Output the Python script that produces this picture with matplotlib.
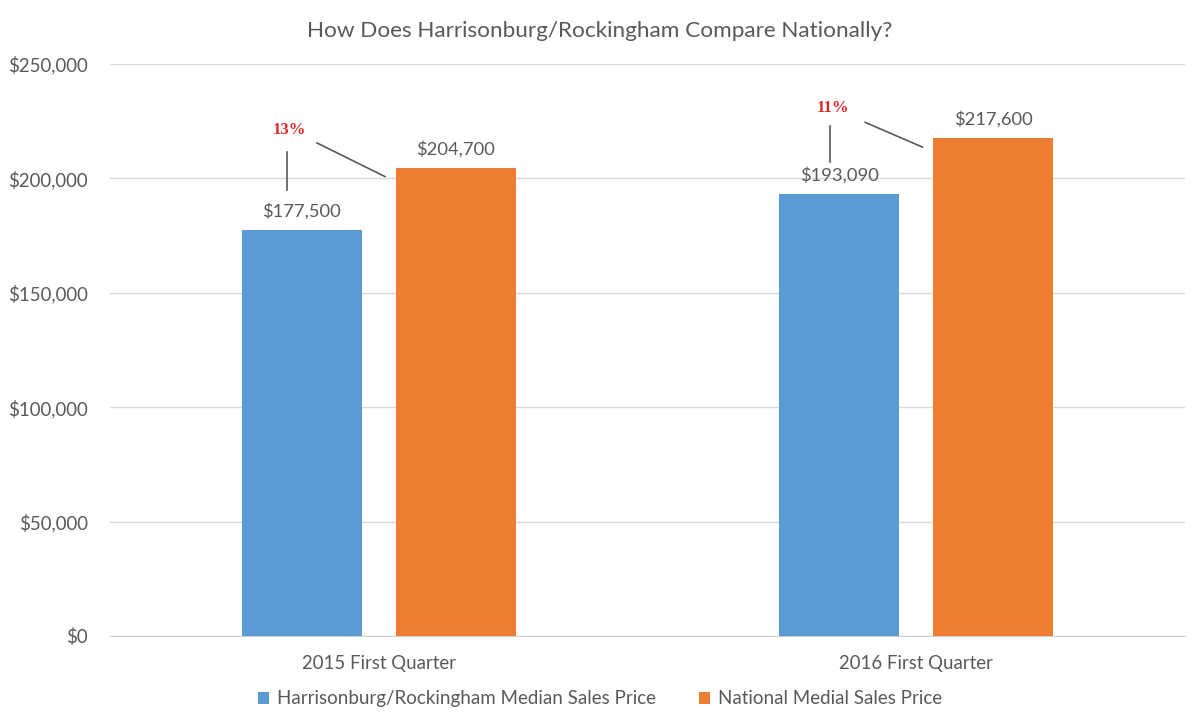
import matplotlib
matplotlib.use("Agg")
import matplotlib.pyplot as plt
import numpy as np

categories = ["2015 First Quarter", "2016 First Quarter"]
local_prices = [177500, 193090]
national_prices = [204700, 217600]
pct_labels = ["13%", "11%"]
series_names = ["Harrisonburg/Rockingham Median Sales Price", "National Medial Sales Price"]
title = "How Does Harrisonburg/Rockingham Compare Nationally?"

BLUE = "#5b9bd5"
ORANGE = "#ed7d31"
GRAY = "#595959"
plt.rcParams['font.family'] = ['Lato', 'DejaVu Sans']

fig = plt.figure(figsize=(12, 7.25), dpi=100)
ax = fig.add_axes([0.0917, 0.1228, 0.8958, 0.7889])

x = np.arange(len(categories))
w = 0.223
off = 0.143
b1 = ax.bar(x - off, local_prices, w, color=BLUE, label=series_names[0], zorder=3)
b2 = ax.bar(x + off, national_prices, w, color=ORANGE, label=series_names[1], zorder=3)

for xi, v in zip(x - off, local_prices):
    ax.text(xi, v + 4500, f"${v:,.0f}", ha="center", va="bottom", fontsize=13.2, color=GRAY)
for xi, v in zip(x + off, national_prices):
    ax.text(xi, v + 4500, f"${v:,.0f}", ha="center", va="bottom", fontsize=13.2, color=GRAY)

# percentage annotations with leader lines
for i in range(len(categories)):
    lx = x[i] - off - (0.028 if i == 0 else 0.017)
    lv = local_prices[i]
    nv = national_prices[i]
    if i == 0:
        vy0, vy1, ty = lv + 17400, lv + 34000, lv + 43600
    else:
        vy0, vy1, ty = lv + 14100, lv + 29800, lv + 37700
    ax.plot([lx, lx], [vy0, vy1], color=GRAY, lw=1.2, zorder=4)
    ax.text(lx + 0.004, ty, pct_labels[i], ha="center", va="center", fontsize=12,
            color="#e0262b", fontweight="bold", family=["Liberation Serif", "DejaVu Serif"])
    dx0 = lx + 0.056 if i == 0 else lx + 0.065
    dx1 = x[i] + off - w / 2 - 0.02
    dy0 = ty - 5600 if i == 0 else ty - 6300
    dy1 = nv - 3900
    ax.plot([dx0, dx1], [dy0, dy1], color=GRAY, lw=1.2, zorder=4)

ax.set_xlim(-0.5, 1.5)
ax.set_ylim(0, 250000)
ax.set_yticks(np.arange(0, 250001, 50000))
ax.set_yticklabels([f"${t:,.0f}" for t in np.arange(0, 250001, 50000)])
ax.set_xticks(x)
ax.set_xticklabels(categories)
ax.tick_params(axis="both", length=0, labelsize=13.4, colors=GRAY)
ax.tick_params(axis="y", pad=16)
ax.tick_params(axis="x", pad=14)
ax.grid(axis="y", color="#d9d9d9", lw=1, zorder=0)
for s in ["top", "right", "left"]:
    ax.spines[s].set_visible(False)
ax.spines["bottom"].set_color("#d0d0d0")

fig.text(0.5, 0.957, title, ha="center", va="center", fontsize=16.2, color=GRAY)

leg = fig.legend(handles=[b1, b2], loc="center", bbox_to_anchor=(0.5, 0.036), ncol=2,
                 frameon=False, fontsize=13.5, handlelength=0.6, handleheight=0.6,
                 columnspacing=2.3, handletextpad=0.4)
for t in leg.get_texts():
    t.set_color(GRAY)

fig.savefig("out.png", dpi=100, facecolor="white")
